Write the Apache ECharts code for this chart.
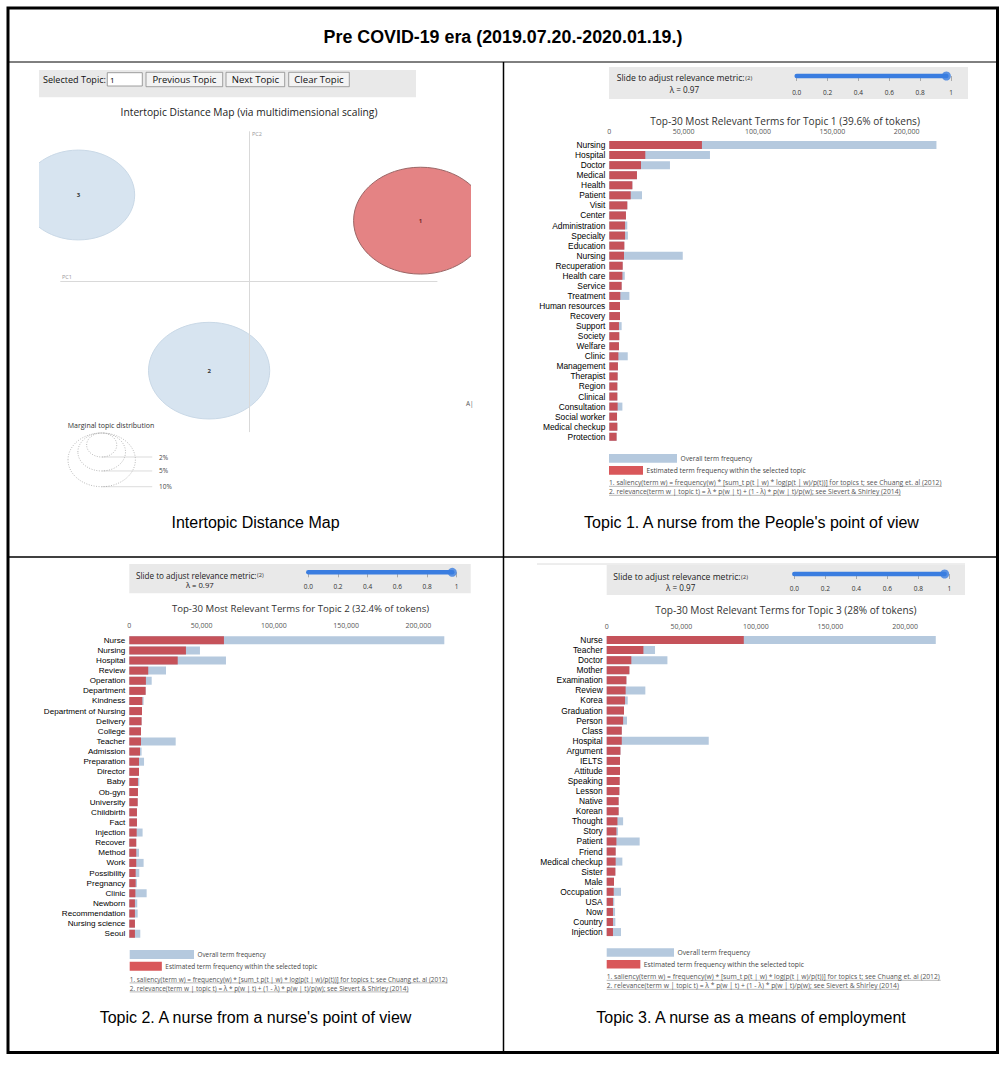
<!DOCTYPE html>
<html><head><meta charset="utf-8">
<script src="https://cdn.jsdelivr.net/npm/echarts@6/dist/echarts.min.js"></script>
<style>html,body{margin:0;padding:0;background:#fff}#c{width:1008px;height:1067px}</style>
</head><body><div id="c"></div>
<script>
// ---------------- DATA ----------------
const figureTitle = 'Pre COVID-19 era (2019.07.20.-2020.01.19.)';
const captions = ['Intertopic Distance Map', "Topic 1. A nurse from the People's point of view",
  "Topic 2. A nurse from a nurse's point of view", 'Topic 3. A nurse as a means of employment'];
const mapTitle = 'Intertopic Distance Map (via multidimensional scaling)';
const topicIds = [1, 2, 3];
const topicShare = [39.6, 32.4, 28];          // % of tokens
const topicPC1 = [0.912, -0.212, -0.907];
const topicPC2 = [0.407, -0.593, 0.578];
const selectedTopic = 1;
const marginalLevels = [2, 5, 10];
const lambdaValue = 0.97;

const topic1Terms = ['Nursing','Hospital','Doctor','Medical','Health','Patient','Visit','Center','Administration','Specialty','Education','Nursing','Recuperation','Health care','Service','Treatment','Human resources','Recovery','Support','Society','Welfare','Clinic','Management','Therapist','Region','Clinical','Consultation','Social worker','Medical checkup','Protection'];
const topic1Total = [220000,67700,40800,18600,15500,22000,12100,11200,12100,12500,10100,49400,9000,10400,8300,13500,7200,7200,8300,6700,6500,12400,5800,5600,5400,5400,8800,5200,5400,4900];
const topic1Est   = [62300,24200,21300,18600,15500,14400,12100,11200,10600,10600,10100,9900,9000,8800,8300,7400,7200,7200,6500,6700,6500,6100,5800,5600,5400,5400,5600,5200,5400,4900];

const topic2Terms = ['Nurse','Nursing','Hospital','Review','Operation','Department','Kindness','Department of Nursing','Delivery','College','Teacher','Admission','Preparation','Director','Baby','Ob-gyn','University','Childbirth','Fact','Injection','Recover','Method','Work','Possibility','Pregnancy','Clinic','Newborn','Recommendation','Nursing science','Seoul'];
const topic2Total = [218000,48900,66900,25400,15500,11300,9900,8800,8500,8100,32100,8500,10200,6700,6900,6000,5800,5300,5300,9200,4800,6700,9900,6900,5300,12000,5500,5800,3900,7600];
const topic2Est   = [65500,39200,33500,13100,11500,11300,9000,8800,8500,8100,8100,7400,6700,6700,6000,6000,5800,5300,5300,5100,4800,4800,4800,4400,4400,4200,3900,3900,3900,3900];

const topic3Terms = ['Nurse','Teacher','Doctor','Mother','Examination','Review','Korea','Graduation','Person','Class','Hospital','Argument','IELTS','Attitude','Speaking','Lesson','Native','Korean','Thought','Story','Patient','Friend','Medical checkup','Sister','Male','Occupation','USA','Now','Country','Injection'];
const topic3Total = [220600,32400,40700,15200,13200,25900,14100,11600,13600,10100,68400,9200,8900,8900,8700,8500,8000,8000,11000,7600,22100,6000,10500,5800,4900,9600,5100,5600,5800,9600];
const topic3Est   = [91900,24600,16500,15200,13200,12700,12300,11600,11000,10100,10100,9200,8900,8900,8700,8500,8000,8000,7200,6500,6500,6000,6000,5800,4900,4700,4200,4200,4200,4200];

const barTitles = ['Top-30 Most Relevant Terms for Topic 1 (39.6% of tokens)',
  'Top-30 Most Relevant Terms for Topic 2 (32.4% of tokens)',
  'Top-30 Most Relevant Terms for Topic 3 (28% of tokens)'];
const freqInterval = 50000;
const sliderInterval = 0.2;
const toolbarButtons = ['Previous Topic', 'Next Topic', 'Clear Topic'];
const legendTexts = ['Overall term frequency', 'Estimated term frequency within the selected topic'];
const footnotes = ['1. saliency(term w) = frequency(w) * [sum_t p(t | w) * log(p(t | w)/p(t))] for topics t; see Chuang et. al (2012)',
  '2. relevance(term w | topic t) = \u03bb * p(w | t) + (1 - \u03bb) * p(w | t)/p(w); see Sievert & Shirley (2014)'];

// ---------------- STYLE / LAYOUT ----------------
const BLUE = '#b5c9de', RED = '#c5525a', SLIDER = '#3a7de0';
const UI = '"Open Sans", sans-serif', AR = '"Liberation Sans", Arial, sans-serif';
const ctx = document.createElement('canvas').getContext('2d');
function measure(t, font) { ctx.font = font; return ctx.measureText(t).width; }
function fitSize(t, fam, weight, target) { return 100 * target / measure(t, weight + ' 100px ' + fam); }

const G = [];
function rect(x, y, w, h, style, z) { G.push({type: 'rect', shape: {x, y, width: w, height: h}, style, z: z || 0, silent: true}); }
function line(x1, y1, x2, y2, style, z) { G.push({type: 'line', shape: {x1, y1, x2, y2}, style, z: z || 0, silent: true}); }
function text(x, y, t, font, fill, align, z) {
  G.push({type: 'text', x, y, z: z || 1, silent: true,
    style: {text: t, font, fill: fill || '#000', textAlign: align || 'left', textVerticalAlign: 'middle', align: align || 'left', verticalAlign: 'middle'}});
}
function fitText(x, y, t, fam, weight, target, fill, align) {
  const s = fitSize(t, fam, weight, target);
  text(x, y, t, weight + ' ' + s.toFixed(2) + 'px ' + fam, fill, align);
  return s;
}

// Frame
rect(8, 8, 989.5, 1044.5, {fill: 'none', stroke: '#000', lineWidth: 3});
line(8, 62, 997, 62, {stroke: '#000', lineWidth: 1});
line(503.5, 62, 503.5, 1052, {stroke: '#000', lineWidth: 1.5});
line(8, 557, 997, 557, {stroke: '#000', lineWidth: 1.5});
fitText(503, 37, figureTitle, AR, 'bold', 359, '#000', 'center');
const capPos = [[255.5, 522], [751.5, 522], [255.5, 1017], [751, 1017]];
captions.forEach((c, i) => text(capPos[i][0], capPos[i][1], c, '16px ' + AR, '#000', 'center'));

// Map panel toolbar
rect(39, 70, 377, 27.3, {fill: '#e9e9e9'});
fitText(43, 79.7, 'Selected Topic:', UI, 'normal', 63, '#111');
rect(107.3, 72.7, 35, 13.3, {fill: '#fff', stroke: '#888', lineWidth: 0.8});
text(110, 79.7, String(selectedTopic), '8px ' + UI, '#000');
const btnX = [[146, 222.7, 64], [226, 284.7, 47.3], [288.7, 349.3, 49.3]];
toolbarButtons.forEach((b, i) => {
  rect(btnX[i][0], 72.3, btnX[i][1] - btnX[i][0], 14.4, {fill: '#f3f3f3', stroke: '#8a8a8a', lineWidth: 0.8});
  fitText((btnX[i][0] + btnX[i][1]) / 2, 79.7, b, UI, 'normal', btnX[i][2], '#111', 'center');
});
fitText(249, 111.7, mapTitle, UI, 'normal', 257, '#222', 'center');
text(62, 277, 'PC1', '5.5px ' + UI, '#999');
text(252, 134, 'PC2', '5.5px ' + UI, '#999');
text(466, 403.5, 'A|', '6.5px ' + UI, '#555');

// Marginal topic distribution guide
fitText(67.7, 425, 'Marginal topic distribution', UI, 'normal', 86.7, '#333');
const guideCx = 101.7, guideTop = 433, pxPerSqrtX = 10.65, pxPerSqrtY = 8.49;
const rLargeX = pxPerSqrtX * Math.sqrt(Math.max(...marginalLevels));
marginalLevels.forEach(p => {
  const rx = pxPerSqrtX * Math.sqrt(p), ry = pxPerSqrtY * Math.sqrt(p);
  G.push({type: 'ellipse', shape: {cx: guideCx, cy: guideTop + ry, rx, ry}, silent: true, z: 0,
    style: {fill: 'none', stroke: '#aaa', lineWidth: 0.8, lineDash: [1, 1.5]}});
  line(guideCx, guideTop + 2 * ry, guideCx + 1.5 * rLargeX, guideTop + 2 * ry, {stroke: 'rgba(128,128,128,0.35)', lineWidth: 0.8});
  text(159, guideTop + 2 * ry, p + '%', '6.5px ' + UI, '#444');
});

// Bar panels layout
const panels = [
  {terms: topic1Terms, total: topic1Total, est: topic1Est, left: 609.3, top: 140, band: 10.06, scale: 1.487, lblMargin: 5, termFont: 8.4,
   title: [785, 121, 270], box: [609, 67, 359, 32], slide: [616.7, 78.3, 128], lam: 89.3,
   slider: {L: 796.7, R: 951, trackY: 76, tickY: 81.7, margin: 7.4},
   legend: {x: 609, y1: 454, y2: 466, w: 68, h: 8.7, t1: 71.7, t2: 159.3}, notes: {x: 609, y1: 482.7, y2: 491.7, w1: 333, w2: 292}},
  {terms: topic2Terms, total: topic2Total, est: topic2Est, left: 129.3, top: 635.2, band: 10.12, scale: 1.445, lblMargin: 6.5, termFont: 8.1,
   title: [300.5, 608.3, 257.7], box: [129.3, 564, 341.4, 29.3], slide: [136, 575.2, 120.5], lam: 585.3,
   slider: {L: 308.3, R: 456.7, trackY: 572.3, tickY: 578.3, margin: 5},
   legend: {x: 129.7, y1: 950, y2: 961.7, w: 64.3, h: 9, t1: 68.3, t2: 152.3}, notes: {x: 129.7, y1: 979.3, y2: 988.3, w1: 318, w2: 279}},
  {terms: topic3Terms, total: topic3Total, est: topic3Est, left: 606.7, top: 635, band: 10.07, scale: 1.4917, lblMargin: 5, termFont: 8.4,
   title: [785.8, 610, 261.7], box: [606.7, 565, 358.3, 30], slide: [613.3, 576.8, 127.3], lam: 587,
   slider: {L: 794.3, R: 949.3, trackY: 574, tickY: 578.3, margin: 6.4},
   legend: {x: 606.7, y1: 948.3, y2: 960, w: 67.3, h: 8.4, t1: 72.7, t2: 160.3}, notes: {x: 606.7, y1: 976.7, y2: 985.7, w1: 334, w2: 292.7}}
];
line(537, 564, 965, 564, {stroke: '#dcdcdc', lineWidth: 1});

panels.forEach((p, i) => {
  rect(p.box[0], p.box[1], p.box[2], p.box[3], {fill: '#e9e9e9'});
  const s = fitSize('Slide to adjust relevance metric:', UI, 'normal', p.slide[2]);
  text(p.slide[0], p.slide[1], 'Slide to adjust relevance metric:', s.toFixed(2) + 'px ' + UI, '#222');
  const supFont = (s * 0.7).toFixed(2) + 'px ' + UI;
  text(p.slide[0] + p.slide[2] + 0.5, p.slide[1], '(2)', supFont, '#333');
  const full = p.slide[2] + 0.5 + measure('(2)', supFont);
  text(p.slide[0] + full / 2, p.lam, '\u03bb = ' + lambdaValue.toFixed(2), (s * 0.95).toFixed(2) + 'px ' + UI, '#222', 'center');
  fitText(p.title[0], p.title[1], barTitles[i], UI, 'normal', p.title[2], '#333', 'center');
  const L = p.legend;
  rect(L.x, L.y1, L.w, L.h, {fill: BLUE});
  rect(L.x, L.y2, L.w / 2, L.h, {fill: '#d9575a'});
  fitText(L.x + L.w + 3.5, L.y1 + L.h / 2, legendTexts[0], UI, 'normal', L.t1, '#444');
  fitText(L.x + L.w / 2 + 3.5, L.y2 + L.h / 2, legendTexts[1], UI, 'normal', L.t2, '#444');
  const N = p.notes;
  [[footnotes[0], N.y1, N.w1], [footnotes[1], N.y2, N.w2]].forEach(([t, y, w]) => {
    fitText(N.x, y, t, UI, 'normal', w, '#555');
    line(N.x, y + 3.6, N.x + w, y + 3.6, {stroke: '#888', lineWidth: 0.6});
  });
});

// ---------------- ECHARTS OPTION ----------------
const grids = [
  {left: 60.7, top: 131.7, width: 376.3, height: 300},   // PC axes
  {left: 39, top: 131.7, width: 432, height: 300}        // circles (clipped)
];
const xAxes = [
  {gridIndex: 0, type: 'value', min: -1, max: 1, z: 3, axisLine: {onZero: true, lineStyle: {color: '#d9d9d9', width: 1}}, axisTick: {show: false}, axisLabel: {show: false}, splitLine: {show: false}},
  {gridIndex: 1, type: 'value', min: -210 / 188.15, max: 222 / 188.15, show: false}
];
const yAxes = [
  {gridIndex: 0, type: 'value', min: -1, max: 1, z: 3, axisLine: {onZero: true, lineStyle: {color: '#d9d9d9', width: 1}}, axisTick: {show: false}, axisLabel: {show: false}, splitLine: {show: false}},
  {gridIndex: 1, type: 'value', min: -1, max: 1, show: false}
];
const circleUnit = 0.0566;
const series = [{
  type: 'custom', xAxisIndex: 1, yAxisIndex: 1, clip: true, silent: true, z: 2,
  data: topicIds.map((id, i) => [topicPC1[i], topicPC2[i], circleUnit * Math.sqrt(topicShare[i]), id]),
  renderItem(params, api) {
    const c = api.coord([api.value(0), api.value(1)]);
    const r = api.size([api.value(2), api.value(2)]);
    const id = api.value(3), sel = id === selectedTopic;
    return {type: 'group', children: [
      {type: 'ellipse', shape: {cx: c[0], cy: c[1], rx: r[0], ry: r[1]},
       style: {fill: sel ? '#e48384' : '#d7e4f0', stroke: sel ? '#9a6666' : '#c9d8e6', lineWidth: 1}},
      {type: 'text', x: c[0], y: c[1], style: {text: String(id), font: 'bold 6px ' + UI, fill: sel ? '#7a2a2a' : '#333',
        textAlign: 'center', textVerticalAlign: 'middle', align: 'center', verticalAlign: 'middle'}}
    ]};
  }
}];

panels.forEach((p, i) => {
  const maxV = Math.max(...p.total);
  const gi = grids.length;
  grids.push({left: p.left, top: p.top, width: maxV * p.scale / 1000, height: p.band * p.terms.length});
  xAxes.push({gridIndex: gi, type: 'value', position: 'top', min: 0, max: maxV, interval: freqInterval,
    axisLine: {show: false}, axisTick: {show: false}, splitLine: {show: false},
    axisLabel: {show: true, showMaxLabel: false, margin: p.lblMargin, fontSize: 7, fontFamily: '"Open Sans"', color: '#555',
      formatter: v => (v % freqInterval === 0 ? v.toLocaleString('en-US') : '')}});
  yAxes.push({gridIndex: gi, type: 'category', inverse: true, data: p.terms,
    axisLine: {show: false}, axisTick: {show: false}, splitLine: {show: false},
    axisLabel: {interval: 0, margin: 4, fontSize: p.termFont, fontFamily: '"Liberation Sans"', color: '#000'}});
  series.push({type: 'bar', xAxisIndex: gi, yAxisIndex: gi, data: p.total, barWidth: 8, barGap: '-100%', itemStyle: {color: BLUE}, silent: true, z: 2});
  series.push({type: 'bar', xAxisIndex: gi, yAxisIndex: gi, data: p.est, barWidth: 8, barGap: '-100%', itemStyle: {color: RED}, silent: true, z: 3});
});

panels.forEach((p, i) => {
  const S = p.slider, gi = grids.length, half = S.tickY - S.trackY;
  grids.push({left: S.L, top: S.trackY - half, width: S.R - S.L, height: 2 * half});
  xAxes.push({gridIndex: gi, type: 'value', min: 0, max: 1, interval: sliderInterval, position: 'bottom',
    axisLine: {show: false}, splitLine: {show: false},
    axisTick: {show: true, length: 5, lineStyle: {color: '#999', width: 0.8}},
    axisLabel: {margin: S.margin, fontSize: 6.5, fontFamily: '"Open Sans"', color: '#333',
      formatter: v => (Math.abs(v - 1) < 1e-9 ? '1' : v.toFixed(1))}});
  yAxes.push({gridIndex: gi, type: 'value', min: -1, max: 1, show: false});
  series.push({type: 'line', xAxisIndex: gi, yAxisIndex: gi, data: [[0, 0], [lambdaValue, 0]], symbol: 'none', silent: true,
    lineStyle: {color: SLIDER, width: 4.5, cap: 'round'}, z: 3});
  series.push({type: 'scatter', xAxisIndex: gi, yAxisIndex: gi, data: [[lambdaValue, 0]], symbolSize: 9, silent: true,
    itemStyle: {color: SLIDER}, z: 4});
});

const chart = echarts.init(document.getElementById('c'), null, {renderer: 'svg', width: 1008, height: 1067});
chart.setOption({
  animation: false, backgroundColor: '#fff',
  grid: grids, xAxis: xAxes, yAxis: yAxes, series,
  graphic: {elements: G}
});
</script></body></html>
